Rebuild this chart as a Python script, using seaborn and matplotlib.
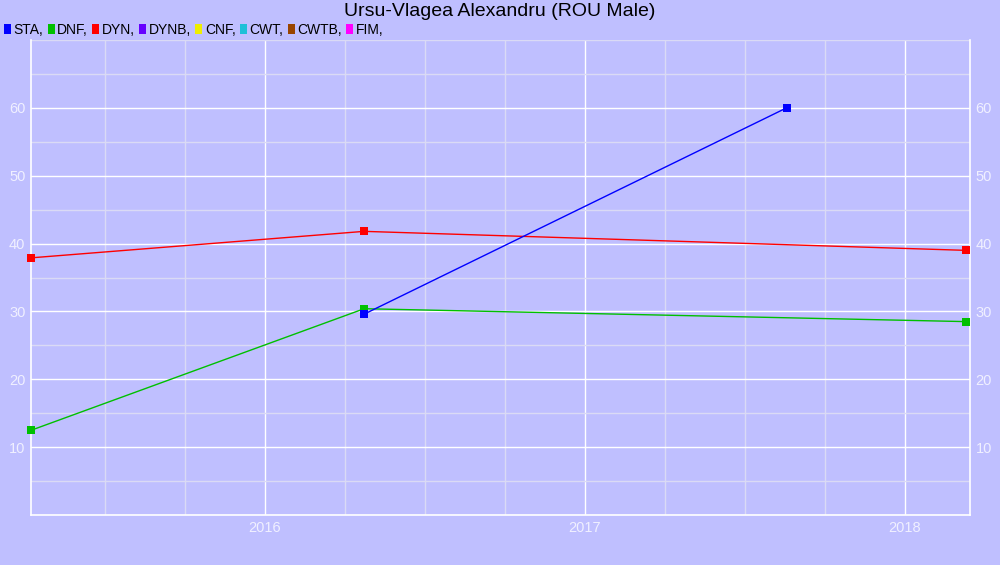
import matplotlib
matplotlib.use("Agg")
import matplotlib.pyplot as plt
from matplotlib.patches import Patch
from matplotlib.ticker import MultipleLocator
import seaborn as sns
import pandas as pd

# Data (decimal years, values)
sta_x = [2016.31, 2017.63]
sta_y = [29.6, 60.0]
dnf_x = [2015.27, 2016.31, 2018.19]
dnf_y = [12.5, 30.4, 28.5]
dyn_x = [2015.27, 2016.31, 2018.19]
dyn_y = [37.9, 41.8, 39.0]

legend_labels = ["STA", "DNF", "DYN", "DYNB", "CNF", "CWT", "CWTB", "FIM"]
legend_colors = ["#0000FF", "#00C000", "#FF0000", "#6600FF", "#EEEE00", "#1EC0D8", "#994400", "#FF00FF"]
x_ticks = [2016, 2017, 2018]
x_tick_labels = ["2016", "2017", "2018"]
title = "Ursu-Vlagea Alexandru (ROU Male)"

bg = "#BFBFFF"
sns.set_style("white")
plt.rcParams["font.family"] = ["Liberation Sans", "DejaVu Sans"]

frames = []
for name, xs, ys in [("STA", sta_x, sta_y), ("DNF", dnf_x, dnf_y), ("DYN", dyn_x, dyn_y)]:
    frames.append(pd.DataFrame({"year": xs, "value": ys, "disc": name}))
df = pd.concat(frames, ignore_index=True)
palette = dict(zip(legend_labels, legend_colors))

fig = plt.figure(figsize=(10, 5.65), dpi=100, facecolor=bg)
ax = fig.add_axes([31/1000, 50/565, 939/1000, 475/565])
ax.set_facecolor(bg)

for name in ["DNF", "DYN", "STA"]:
    sub = df[df.disc == name]
    sns.lineplot(data=sub, x="year", y="value", color=palette[name], lw=1,
                 marker="s", markersize=6, markeredgewidth=0, ax=ax, legend=False,
                 zorder=3, clip_on=False)

ax.set_xlim(2015.269, 2018.203)
ax.set_ylim(0, 70)
ax.xaxis.set_major_locator(MultipleLocator(1))
ax.xaxis.set_minor_locator(MultipleLocator(0.25))
ax.yaxis.set_major_locator(MultipleLocator(10))
ax.yaxis.set_minor_locator(MultipleLocator(5))
ax.set_xticks(x_ticks)
ax.set_xticklabels(x_tick_labels)
ax.set_yticks([10, 20, 30, 40, 50, 60])
ax.grid(which="major", color="white", lw=1)
ax.grid(which="minor", color="#DADAF5", lw=1)
ax.set_axisbelow(True)
for s in ax.spines.values():
    s.set_color("white")
    s.set_linewidth(1.2)
ax.spines["top"].set_visible(False)
ax.tick_params(axis="both", which="both", length=0, colors="#F0F0FF", labelsize=10.5)
ax.tick_params(axis="y", labelright=True, pad=4)
ax.tick_params(axis="x", pad=4)
ax.set_xlabel("")
ax.set_ylabel("")

fig.text(0.5, 0.979, title, ha="center", va="center", fontsize=14, color="black")

handles = [Patch(facecolor=c, edgecolor="none") for c in legend_colors]
leg = fig.legend(handles, [l + "," for l in legend_labels], loc="upper left",
                 bbox_to_anchor=(0.004, 0.960), ncol=8, frameon=False, fontsize=10,
                 handletextpad=0.2, columnspacing=0.3, handlelength=0.5,
                 handleheight=0.75, borderaxespad=0, borderpad=0)
for t in leg.get_texts():
    t.set_color("black")

fig.savefig("out.png", dpi=100, facecolor=bg)
